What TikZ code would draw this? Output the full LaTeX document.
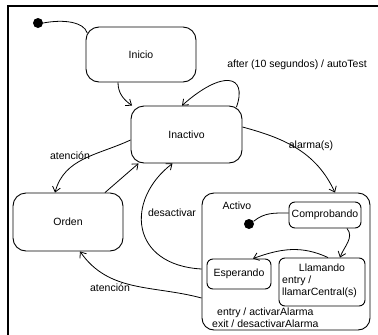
\documentclass[tikz,border=0pt]{standalone}
\usepackage{fontspec}
\setmainfont{Liberation Sans}
\usetikzlibrary{arrows.meta}
\begin{document}
\begin{tikzpicture}[x=1pt,y=-1pt,
  font=\fontsize{10.5}{12}\selectfont,
  bigstate/.style={draw, line width=0.9pt, rounded corners=13pt, inner sep=0pt},
  smallstate/.style={draw, line width=0.9pt, rounded corners=6pt, inner sep=0pt},
  dotnode/.style={circle, fill=black, minimum size=10pt, inner sep=0pt},
  txt/.style={inner sep=0pt},
  conn/.style={line width=0.8pt},
  arr/.style={line width=0.8pt, -{Straight Barb[length=5pt,width=8pt]}}]
\useasboundingbox (0,0) rectangle (378,335);
\fill[white] (0,0) rectangle (378,335);
% frame
\draw[line width=1.5pt] (8,335) -- (8,6) -- (378,6);

% states
\node[bigstate, minimum width=110pt, minimum height=55pt] (inicio) at (141,54.5) {Inicio};
\node[bigstate, minimum width=111pt, minimum height=57pt] (inactivo) at (186.5,134.5) {Inactivo};
\node[bigstate, minimum width=110pt, minimum height=58pt] (orden) at (68,222) {Orden};
\node[draw, line width=0.9pt, rounded corners=12pt, minimum width=168pt, minimum height=137pt, inner sep=0pt] (activo) at (286,261.5) {};
\node[txt] (activol) at (237,206) {Activo};
\node[smallstate, minimum width=72pt, minimum height=26pt] (comp) at (325,215) {Comprobando};
\node[smallstate, minimum width=64pt, minimum height=30pt] (esp) at (239,274) {Esperando};
\node[smallstate, minimum width=86pt, minimum height=48pt] (llam) at (322,282) {};
\node[txt] (llamt) at (322,268) {Llamando};
\node[txt, anchor=west] (llame) at (282,281) {entry /};
\node[txt, anchor=west] (llamc) at (282,293) {llamarCentral(s)};
\node[txt, anchor=west] (actentry) at (217,313) {entry / activarAlarma};
\node[txt, anchor=west] (actexit) at (212,324) {exit / desactivarAlarma};

% initial pseudostates
\node[dotnode] (init) at (38,23) {};
\node[dotnode] (init2) at (249,224) {};

% labels
\node[txt] (lafter) at (297,65) {after (10 segundos) / autoTest};
\node[txt] (laten1) at (70,156) {atención};
\node[txt] (lalarma) at (311,146) {alarma(s)};
\node[txt] (ldesact) at (172,213) {desactivar};
\node[txt] (laten2) at (110,288) {atención};

% connectors
\draw[conn] (init.east) .. controls (64,19) and (84,22) .. ([xshift=1.7pt,yshift=-6.5pt]inicio.north west);
\draw[arr] ([xshift=-23pt]inicio.south) to[out=-90,in=145] (inactivo.152);
\draw[arr] ([xshift=-6pt,yshift=-1.6pt]inactivo.north east) .. controls (248,74) and (222,70) .. ([xshift=-4.5pt]inactivo.north);
\draw[arr] ([yshift=-5.5pt]inactivo.west) to[out=205,in=75] ([xshift=-13pt]orden.north);
\draw[arr] ([xshift=37pt]orden.north) -- ([xshift=-48pt]inactivo.south);
\draw[arr] ([yshift=-7.5pt]activo.west) .. controls (130,265) and (125,200) .. ([xshift=-14pt]inactivo.south);
\draw[arr] ([yshift=7.5pt]inactivo.east) to[out=-15,in=115] ([xshift=49pt]activo.north);
\draw[arr] ([yshift=-36.5pt]activo.west) to[out=165,in=-55] ([xshift=12pt]orden.south);
\draw[conn] ([yshift=2pt]comp.west) to[out=180,in=40] (init2.30);
\draw[arr] ([xshift=22pt]comp.south) to[out=-50,in=70] ([xshift=18pt]llam.north);
\draw[arr] ([xshift=6pt]llam.north) to[out=155,in=20] ([xshift=14pt]esp.north);
\end{tikzpicture}
\end{document}
